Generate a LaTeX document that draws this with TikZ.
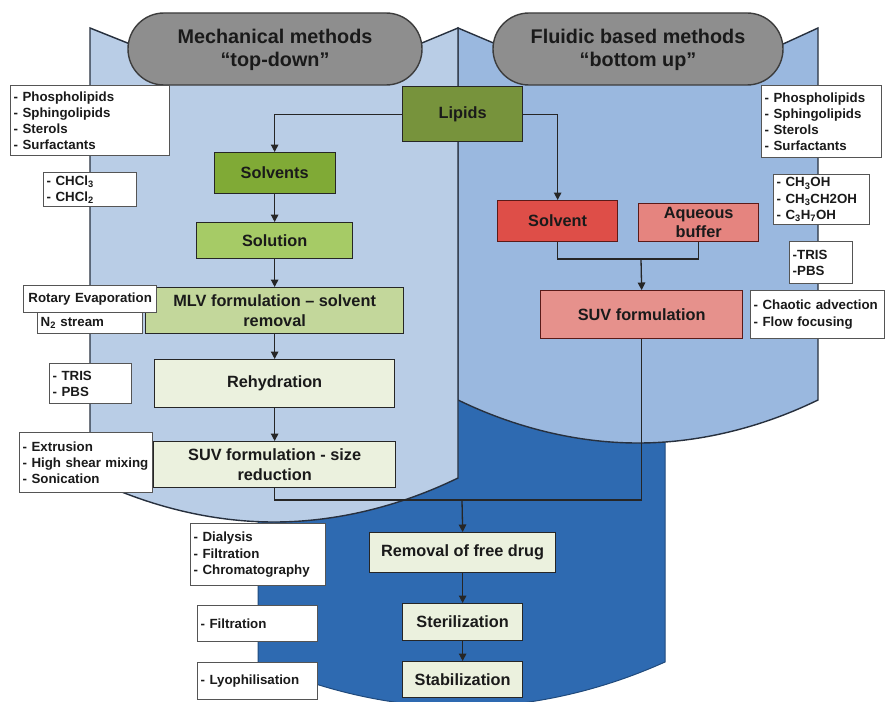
\documentclass[tikz,border=0pt]{standalone}
\usepackage{fontspec}
\setmainfont{Liberation Sans}
\usetikzlibrary{arrows.meta}
\definecolor{lpanel}{HTML}{B9CDE6}
\definecolor{rpanel}{HTML}{9AB8DF}
\definecolor{dpanel}{HTML}{2E6AB1}
\definecolor{pillgray}{HTML}{8E8E8E}
\definecolor{lipidc}{HTML}{77933C}
\definecolor{solvc}{HTML}{80AA36}
\definecolor{solnc}{HTML}{A6CB66}
\definecolor{mlvc}{HTML}{C3D79B}
\definecolor{palec}{HTML}{EBF1DE}
\definecolor{redc}{HTML}{DE4E48}
\definecolor{aqc}{HTML}{E5847F}
\definecolor{suvc}{HTML}{E6918C}
\definecolor{edgec}{HTML}{262626}
\definecolor{panedge}{HTML}{27303E}
\definecolor{txtc}{HTML}{1A1A1A}
\definecolor{redge}{HTML}{5A1A18}
\definecolor{wedge}{HTML}{555555}
\begin{document}
\begin{tikzpicture}[x=1pt,y=-1pt,
  panel/.style={draw=panedge, line width=1.4pt, line join=miter},
  pill/.style={fill=pillgray, draw=edgec!90, line width=1.4pt, rounded corners=36pt},
  titletext/.style={font=\fontsize{19.8}{23.5}\selectfont\bfseries, text=txtc, align=center},
  stepbox/.style={draw=edgec, line width=1.3pt, inner sep=0pt, align=center, anchor=north west, text=txtc, font=\fontsize{16.3}{19.5}\selectfont\bfseries},
  redbox/.style={stepbox, draw=redge},
  wbox/.style={draw=wedge, fill=white, line width=1.4pt, inner xsep=3pt, inner ysep=0pt, align=left, anchor=north west, text=txtc, font=\fontsize{13.3}{16.3}\selectfont\bfseries},
  arr/.style={draw=edgec, line width=1.3pt, -{Triangle[length=7.5pt,width=7.5pt]}},
  conn/.style={draw=edgec, line width=1.3pt}]

\clip (0,0) rectangle (885,701);
\fill[white] (0,0) rectangle (885,701);

% background shields
\draw[fill=dpanel, draw=dpanel!70!black, line width=1pt] (258,380) -- (665,380) -- (665,662) parabola bend (461.5,707) (258,662) -- cycle;
\draw[panel, fill=rpanel] (458,28) -- (510,50) -- (770,50) -- (818,28) -- (818,400) parabola bend (638,443) (458,400) -- cycle;
\draw[panel, fill=lpanel] (90,28) -- (145,50) -- (405,50) -- (458,28) -- (458,478) parabola bend (274,522) (90,478) -- cycle;

% title pills
\draw[pill] (128,13) rectangle (422,85);
\node[titletext] (t1) at (275,50) {Mechanical methods\\“top-down”};
\draw[pill] (493,13) rectangle (783,85);
\node[titletext] (t2) at (638,50) {Fluidic based methods\\“bottom up”};

% process boxes
\node[stepbox, fill=lipidc, minimum width=120pt, minimum height=55pt] (lipids) at (402,86) {Lipids};
\node[stepbox, fill=solvc, minimum width=121pt, minimum height=41pt] (solvents) at (213.5,152) {Solvents};
\node[stepbox, fill=solnc, minimum width=156pt, minimum height=36pt] (solution) at (196,222) {Solution};
\node[stepbox, fill=mlvc, minimum width=258pt, minimum height=46pt] (mlv) at (145,287) {MLV formulation – solvent\\removal};
\node[stepbox, fill=palec, minimum width=240pt, minimum height=48pt] (rehyd) at (154,359) {Rehydration};
\node[stepbox, fill=palec, minimum width=242pt, minimum height=46pt] (suv1) at (153,441) {SUV formulation - size\\reduction};

\node[redbox, fill=redc, minimum width=120pt, minimum height=41pt] (solvent) at (497,200) {Solvent};
\node[redbox, fill=aqc, minimum width=120pt, minimum height=38pt] (aq) at (638,203) {Aqueous\\buffer};
\node[redbox, fill=suvc, minimum width=202pt, minimum height=48pt] (suv2) at (540,290) {SUV formulation};

\node[stepbox, fill=palec, minimum width=186pt, minimum height=40pt] (removal) at (369,532) {Removal of free drug};
\node[stepbox, fill=palec, minimum width=120pt, minimum height=37pt] (steril) at (402,603) {Sterilization};
\node[stepbox, fill=palec, minimum width=120pt, minimum height=36pt] (stabil) at (402,661) {Stabilization};

% connectors
\draw[arr] (lipids.west) -| (solvents.north);
\draw[arr] (lipids.east) -| (solvent.north);
\draw[arr] (solvents.south) -- (solution.north);
\draw[arr] (solution.south) -- (mlv.north);
\draw[arr] (mlv.south) -- (rehyd.north);
\draw[arr] (rehyd.south) -- (suv1.north);
\coordinate (j1) at (641,259);
\draw[conn] (solvent.south) |- (j1) -| (aq.south);
\draw[arr] (j1) -- (suv2.north);
\coordinate (j2) at (462,500);
\draw[conn] (suv1.south) |- (j2) -| (suv2.south);
\draw[arr] (j2) -- (removal.north);
\draw[arr] (removal.south) -- (steril.north);
\draw[arr] (steril.south) -- (stabil.north);

% side note boxes, left
\node[wbox, text width=153pt, minimum height=70pt] (phl) at (10,85) {- Phospholipids\\- Sphingolipids\\- Sterols\\- Surfactants};
\node[wbox, text width=87pt, minimum height=34pt] (chcl) at (43,172) {- CHCl\textsubscript{3}\\- CHCl\textsubscript{2}};
\node[wbox, text width=99pt, minimum height=22pt] (n2) at (37,311) {N\textsubscript{2} stream};
\node[wbox, inner xsep=2pt, text width=129pt, minimum height=27pt, align=center] (rotary) at (23,285) {Rotary Evaporation};
\node[wbox, text width=76pt, minimum height=40pt] (tris1) at (49,363) {- TRIS\\- PBS};
\node[wbox, text width=127pt, minimum height=60pt] (extr) at (19,432) {- Extrusion\\- High shear mixing\\- Sonication};

% side note boxes, right
\node[wbox, text width=114pt, minimum height=72pt] (phr) at (761,85) {- Phospholipids\\- Sphingolipids\\- Sterols\\- Surfactants};
\node[wbox, text width=90pt, minimum height=50pt] (ch3) at (773,174) {- CH\textsubscript{3}OH\\- CH\textsubscript{3}CH2OH\\- C\textsubscript{3}H\textsubscript{7}OH};
\node[wbox, text width=57pt, minimum height=42pt] (tris2) at (789,241) {-TRIS\\-PBS};
\node[wbox, text width=128pt, minimum height=48pt] (chaos) at (750,290) {- Chaotic advection\\- Flow focusing};

% side note boxes, bottom
\node[wbox, text width=129pt, minimum height=62pt] (dial) at (190,523) {- Dialysis\\- Filtration\\- Chromatography};
\node[wbox, text width=114pt, minimum height=36pt] (filt) at (197,605) {- Filtration};
\node[wbox, text width=114pt, minimum height=37pt] (lyo) at (197,662) {- Lyophilisation};
\end{tikzpicture}
\end{document}
